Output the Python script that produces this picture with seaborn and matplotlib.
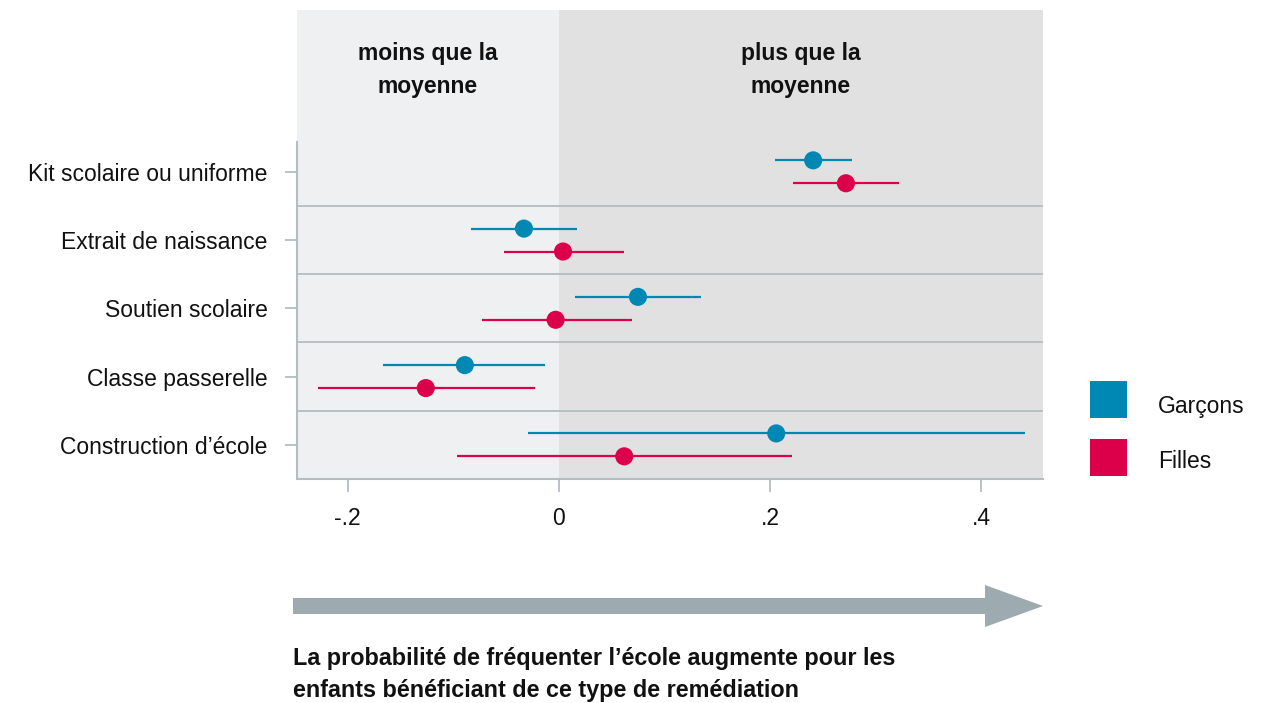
import matplotlib
matplotlib.use("Agg")
import matplotlib.pyplot as plt
import seaborn as sns
import pandas as pd
from matplotlib.patches import Rectangle, Polygon

# ---------------- data ----------------
categories = ["Kit scolaire ou uniforme", "Extrait de naissance", "Soutien scolaire",
              "Classe passerelle", "Construction d\u2019école"]
garcons_est = [0.241, -0.033, 0.075, -0.089, 0.206]
garcons_lo = [0.205, -0.083, 0.015, -0.167, -0.029]
garcons_hi = [0.278, 0.017, 0.135, -0.013, 0.442]
filles_est = [0.272, 0.004, -0.003, -0.126, 0.062]
filles_lo = [0.222, -0.052, -0.073, -0.228, -0.096]
filles_hi = [0.322, 0.062, 0.069, -0.023, 0.221]
series = ["Garçons", "Filles"]
xtick_vals = [-0.2, 0, 0.2, 0.4]
xtick_labels = ["-.2", "0", ".2", ".4"]

BLUE = "#0088B4"
RED = "#DC004A"
GRID = "#B3BDC2"
TXT = "#111111"
FS = 16.5
offset = 0.168

rows = []
for i, c in enumerate(categories):
    rows.append(dict(cat=c, sex="Garçons", est=garcons_est[i], lo=garcons_lo[i],
                     hi=garcons_hi[i], y=i - offset))
    rows.append(dict(cat=c, sex="Filles", est=filles_est[i], lo=filles_lo[i],
                     hi=filles_hi[i], y=i + offset))
df = pd.DataFrame(rows)
palette = {"Garçons": BLUE, "Filles": RED}

sns.set_theme(style="white")
plt.rcParams['font.family'] = ['Liberation Sans', 'DejaVu Sans']

fig = plt.figure(figsize=(12.75, 7.03), dpi=100)
ax = fig.add_axes([297 / 1275, 1 - 479 / 703, (1043 - 297) / 1275, (479 - 10) / 703])

xmin, xmax = -0.248, 0.4587
ax.set_xlim(xmin, xmax)
ax.set_ylim(4.5, -2.37)

ax.axvspan(xmin, 0, color="#EFF0F2", zorder=0, lw=0)
ax.axvspan(0, xmax, color="#E1E1E1", zorder=0, lw=0)
ax.hlines([0.5, 1.5, 2.5, 3.5], xmin, xmax, color=GRID, lw=1.3, zorder=1)

for s in series:
    d = df[df.sex == s]
    ax.hlines(d.y, d.lo, d.hi, color=palette[s], lw=1.6, zorder=2)
sns.scatterplot(data=df, x="est", y="y", hue="sex", palette=palette, s=170,
                linewidth=0, legend=False, zorder=3, ax=ax)

ax.set_xlabel("")
ax.set_ylabel("")
ax.set_yticks(range(len(categories)))
ax.set_yticklabels(categories, fontsize=FS, color=TXT)
ax.set_xticks(xtick_vals)
ax.set_xticklabels(xtick_labels, fontsize=FS, color=TXT)
ax.tick_params(axis="y", left=True, length=9, width=1.3, color=GRID, pad=12)
ax.tick_params(axis="x", bottom=True, length=9, width=1.3, color=GRID, pad=11)

for side in ["top", "right"]:
    ax.spines[side].set_visible(False)
for side in ["left", "bottom"]:
    ax.spines[side].set_color(GRID)
    ax.spines[side].set_linewidth(1.5)
ax.spines["left"].set_bounds(-0.435, 4.5)

ax.text(xmin / 2, -1.49, "moins que la\nmoyenne", ha="center", va="center",
        fontsize=FS, fontweight="bold", linespacing=1.55, color=TXT)
ax.text(xmax / 2, -1.49, "plus que la\nmoyenne", ha="center", va="center",
        fontsize=FS, fontweight="bold", linespacing=1.55, color=TXT)

# legend (figure inches)
H = 7.03
for s, top, ty in [("Garçons", 3.81, 4.07), ("Filles", 4.39, 4.62)]:
    fig.add_artist(Rectangle((10.90, H - top - 0.37), 0.37, 0.37,
                             transform=fig.dpi_scale_trans,
                             facecolor=palette[s], edgecolor="none"))
    fig.text(11.58 / 12.75, 1 - ty / H, s, ha="left", va="center",
             fontsize=FS, color=TXT)

# arrow (figure inches)
pts = [(2.93, H - 5.98), (9.85, H - 5.98), (9.85, H - 5.85), (10.43, H - 6.06),
       (9.85, H - 6.27), (9.85, H - 6.14), (2.93, H - 6.14)]
fig.add_artist(Polygon(pts, closed=True, transform=fig.dpi_scale_trans,
                       facecolor="#9DAAB0", edgecolor="none"))

fig.text(293 / 1275, 1 - 674 / 703,
         "La probabilité de fréquenter l\u2019école augmente pour les\nenfants bénéficiant de ce type de remédiation",
         ha="left", va="center", fontsize=16.8, fontweight="bold", linespacing=1.5,
         color=TXT)

fig.savefig("out.png", dpi=100)
